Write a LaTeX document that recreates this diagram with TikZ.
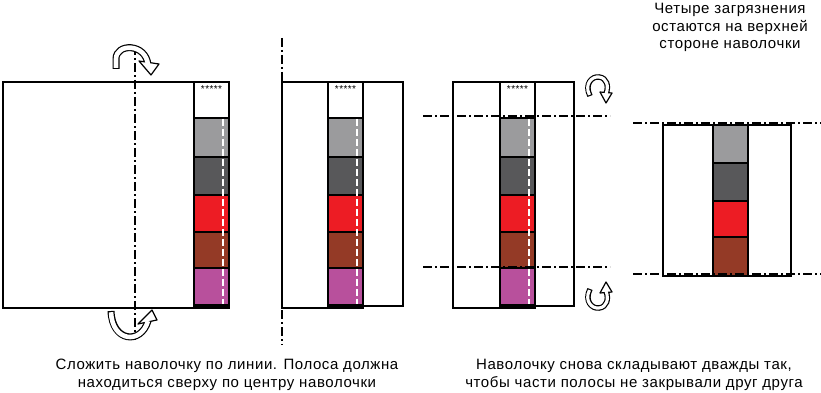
\documentclass[tikz,border=0pt]{standalone}
\usepackage{fontspec}
\setmainfont{Liberation Sans}[LetterSpace=4]
\definecolor{cA}{HTML}{9B9B9D}
\definecolor{cB}{HTML}{58585A}
\definecolor{cC}{HTML}{ED1C24}
\definecolor{cD}{HTML}{943A26}
\definecolor{cE}{HTML}{B8509C}
\newcommand{\harrow}[4]{%
  \draw[line width=#3] #1;
  \filldraw[fill=white,draw=black,line width=1.2pt,line join=round] #2 -- cycle;
  \draw[white,line width=#4,shorten <=1.2pt] #1;
}
\begin{document}
\begin{tikzpicture}[x=1pt,y=-1pt,
  frame/.style={draw=black,line width=2.2pt},
  foldline/.style={line width=1.5pt,dash pattern=on 9pt off 3pt on 2pt off 3pt},
  wdash/.style={white,line width=1.6pt,dash pattern=on 7pt off 3pt},
  lbl/.style={font=\fontsize{15}{17.5}\selectfont,align=center,inner sep=0pt}]
\useasboundingbox (0,0) rectangle (821,393);
% fold lines (vertical)
\draw[foldline] (135,46) -- (135,340);
\draw[foldline] (282,38) -- (282,345);
% strips in figures 1-3
\foreach \xx in {194,328,500}{
  \foreach \cc/\ya/\yb in {cA/118/157,cB/157/195,cC/195/232,cD/232/268,cE/268/305}
    \filldraw[fill=\cc,draw=black,line width=1.6pt] (\xx,\ya) rectangle ({\xx+35},\yb);
  \fill[black] (\xx,304) rectangle ({\xx+35},309);
  \draw[wdash] ({\xx+29},119) -- ({\xx+29},304);
  \node[font=\fontsize{10}{10}\selectfont,inner sep=0pt] at ({\xx+17.5},89) {*****};
}
% figure 1
\draw[frame] (3,82) rectangle (229,308);
\draw[frame] (194,82) -- (194,308);
% figure 2
\draw[frame] (282,82) rectangle (363,308);
\draw[frame] (363,82) rectangle (403,306);
\draw[frame] (328,82) -- (328,308);
% figure 3
\draw[frame] (453,82) rectangle (535,308);
\draw[frame] (535,82) rectangle (574,306);
\draw[frame] (500,82) -- (500,308);
\draw[foldline] (423,116) -- (610,116);
\draw[foldline] (423,267) -- (610,267);
% figure 4
\foreach \cc/\ya/\yb in {cA/125/163,cB/163/201,cC/201/237,cD/237/276}
  \filldraw[fill=\cc,draw=black,line width=1.6pt] (713,\ya) rectangle (748,\yb);
\draw[frame] (663,125) rectangle (791,276);
\draw[frame] (713,125) -- (713,276);
\draw[frame] (748,125) -- (748,276);
\draw[foldline] (633,123) -- (821,123);
\draw[foldline] (633,274) -- (821,274);
% hollow arrows
\harrow{(116,69) -- (116,59) .. controls (116,43) and (146,43) .. (148,65)}{(139,61) -- (159,64) -- (151,75)}{7pt}{4.6pt}
\harrow{(111,311) .. controls (112,342) and (141,345) .. (148,321)}{(138,324) -- (157,320) -- (152,310)}{7pt}{4.6pt}
\harrow{(590,96) .. controls (584,84) and (592,76) .. (599,77) .. controls (607,78) and (609,86) .. (606,94)}{(600,92) -- (612,93) -- (606,103)}{5.5pt}{3.1pt}
\harrow{(590,289) .. controls (584,301) and (592,309) .. (599,308) .. controls (607,307) and (609,299) .. (606,291)}{(600,293) -- (612,292) -- (606,282)}{5.5pt}{3.1pt}
% texts
\node[lbl] (t1) at (730,27.5) {Четыре загрязнения\\остаются на верхней\\стороне наволочки};
\node[lbl] (t2) at (227,375) {Сложить наволочку по линии. Полоса должна\\находиться сверху по центру наволочки};
\node[lbl] (t3) at (634,375) {Наволочку снова складывают дважды так,\\чтобы части полосы не закрывали друг друга};
\end{tikzpicture}
\end{document}
